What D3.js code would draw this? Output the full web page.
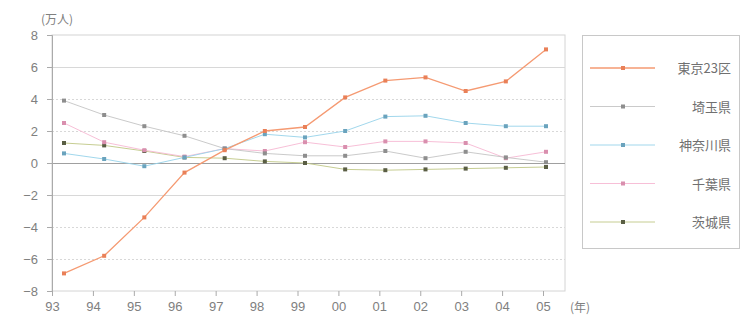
<!DOCTYPE html>
<html>
<head>
<meta charset="utf-8">
<script src="https://cdn.jsdelivr.net/npm/d3@7"></script>
<style>
  body { margin: 0; background: #fff; }
  svg { display: block; font-family: "Noto Sans CJK JP", "Noto Sans", sans-serif; }
</style>
</head>
<body>
<svg id="chart" width="744" height="320"></svg>
<script>
// Annual net migration (10,000 persons) into the Tokyo area, 1993–2005
const years = ["93","94","95","96","97","98","99","00","01","02","03","04","05"];
const tokyo23    = [-6.9, -5.8, -3.4, -0.6, 0.8, 2.0, 2.25, 4.1, 5.15, 5.35, 4.5, 5.1, 7.1];
const saitama    = [3.9, 3.0, 2.3, 1.7, 0.9, 0.6, 0.45, 0.45, 0.75, 0.3, 0.7, 0.35, 0.05];
const kanagawa   = [0.6, 0.25, -0.2, 0.35, 0.9, 1.8, 1.6, 2.0, 2.9, 2.95, 2.5, 2.3, 2.3];
const chiba      = [2.5, 1.3, 0.8, 0.4, 0.9, 0.75, 1.3, 1.0, 1.35, 1.35, 1.25, 0.3, 0.7];
const ibaraki    = [1.25, 1.1, 0.75, 0.35, 0.3, 0.1, 0.0, -0.4, -0.45, -0.4, -0.35, -0.3, -0.25];
const seriesNames = ["東京23区", "埼玉県", "神奈川県", "千葉県", "茨城県"];
const yTicks = [-8, -6, -4, -2, 0, 2, 4, 6, 8];

const series = [
  { name: seriesNames[0], values: tokyo23,  line: "#f59a72", dot: "#e98058", width: 1.3 },
  { name: seriesNames[1], values: saitama,  line: "#c4c4c4", dot: "#8e8e8e", width: 0.9 },
  { name: seriesNames[2], values: kanagawa, line: "#96d3ea", dot: "#6aa3bd", width: 0.9 },
  { name: seriesNames[3], values: chiba,    line: "#f6b8d2", dot: "#d98fae", width: 0.9 },
  { name: seriesNames[4], values: ibaraki,  line: "#bfc786", dot: "#5a5e44", width: 0.9 }
];

const svg = d3.select("#chart");
const plot = { left: 52, right: 565, top: 35, bottom: 291 };

const y = d3.scaleLinear().domain([-8, 8]).range([plot.bottom, plot.top]);
// axis tick positions and mark positions along x
const xAxis = d3.scalePoint().domain(years).range([52, 543]);
const x = d3.scalePoint().domain(years).range([64, 546]);

// plot frame
svg.append("rect")
  .attr("x", plot.left).attr("y", plot.top)
  .attr("width", plot.right - plot.left).attr("height", plot.bottom - plot.top)
  .attr("fill", "none").attr("stroke", "#d4d4d4").attr("stroke-width", 1);

// horizontal grid
const dashed = new Set([4, 2, -4, -6]);
svg.append("g").selectAll("line")
  .data(yTicks.filter(t => t !== 8 && t !== -8))
  .join("line")
  .attr("x1", plot.left).attr("x2", plot.right)
  .attr("y1", d => y(d) + 0.5).attr("y2", d => y(d) + 0.5)
  .attr("stroke", d => d === 0 ? "#a0a0a0" : "#d8d8d8")
  .attr("stroke-width", 1)
  .attr("stroke-dasharray", d => dashed.has(d) ? "2,2" : null);

// y axis
const gy = svg.append("g")
  .attr("transform", `translate(${plot.left},0)`)
  .call(d3.axisLeft(y).tickValues(yTicks).tickSize(5).tickPadding(9).tickFormat(d3.format("d")));
gy.select(".domain").attr("stroke", "#aaa");
gy.selectAll(".tick line").attr("stroke", "#aaa");
gy.selectAll(".tick text").attr("fill", "#808080").style("font-size", "13px")
  .style("font-family", "Liberation Sans, Arial, sans-serif");

// x axis
const gx = svg.append("g")
  .attr("transform", `translate(0,${plot.bottom})`)
  .call(d3.axisBottom(xAxis).tickSize(5).tickPadding(6));
gx.select(".domain").remove();
gx.selectAll(".tick line").attr("stroke", "#aaa");
gx.selectAll(".tick text").attr("fill", "#808080").style("font-size", "13px")
  .style("font-family", "Liberation Sans, Arial, sans-serif");

// unit labels
svg.append("text").attr("x", 41).attr("y", 24)
  .attr("fill", "#808080").style("font-size", "12px").text("(万人)");
svg.append("text").attr("x", 570).attr("y", 312)
  .attr("fill", "#808080").style("font-size", "12px").text("(年)");

// series lines and markers (Tokyo drawn last so it sits on top)
const line = d3.line().x((d, i) => x(years[i])).y(d => y(d));
const order = [4, 3, 2, 1, 0];
order.forEach(k => {
  const s = series[k];
  const g = svg.append("g");
  g.append("path")
    .datum(s.values)
    .attr("d", line)
    .attr("fill", "none")
    .attr("stroke", s.line)
    .attr("stroke-width", s.width);
  g.selectAll("rect")
    .data(s.values)
    .join("rect")
    .attr("x", (d, i) => x(years[i]) - 2)
    .attr("y", d => y(d) - 2)
    .attr("width", 4).attr("height", 4)
    .attr("fill", s.dot);
});

// legend
const legend = svg.append("g");
legend.append("rect")
  .attr("x", 582.5).attr("y", 35.5).attr("width", 157).attr("height", 213)
  .attr("fill", "#fff").attr("stroke", "#c8c8c8");
const legendY = d3.scalePoint().domain(seriesNames).range([68, 222]);
series.forEach(s => {
  const ly = legendY(s.name);
  legend.append("line")
    .attr("x1", 590).attr("x2", 655).attr("y1", ly).attr("y2", ly)
    .attr("stroke", s.line).attr("stroke-width", s.width);
  legend.append("rect")
    .attr("x", 621).attr("y", ly - 2).attr("width", 4).attr("height", 4)
    .attr("fill", s.dot);
  legend.append("text")
    .attr("x", 731).attr("y", ly + 5)
    .attr("text-anchor", "end")
    .attr("fill", "#707070").style("font-size", "13px")
    .text(s.name);
});
</script>
</body>
</html>
